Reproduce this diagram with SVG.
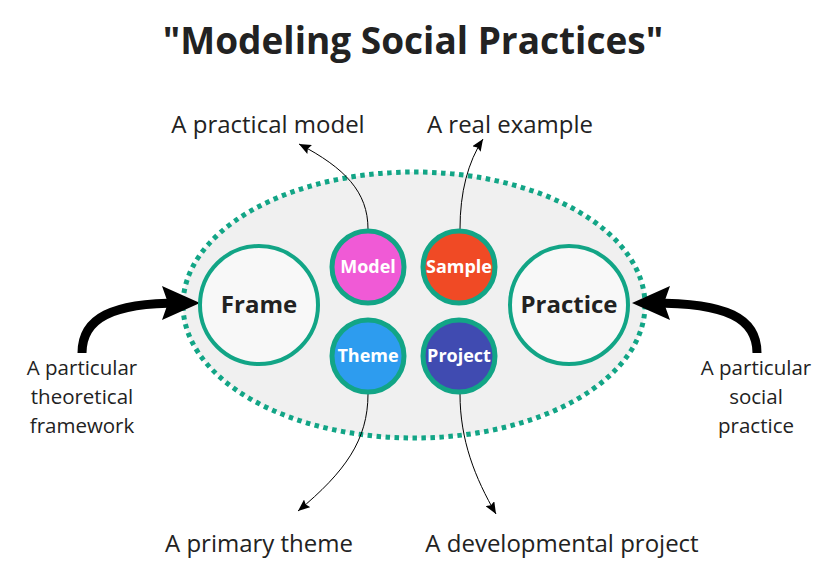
<svg xmlns="http://www.w3.org/2000/svg" width="837" height="587" viewBox="0 0 837 587">
<defs>
<style>
.lbl{font-family:"Open Sans","Noto Sans",sans-serif;font-size:24px;fill:#222;text-anchor:middle}
.side{font-family:"Open Sans","Noto Sans",sans-serif;font-size:20.5px;fill:#222;text-anchor:middle}
.big{font-family:"Open Sans","Noto Sans",sans-serif;font-size:24px;font-weight:bold;fill:#222;text-anchor:middle}
.sm{font-family:"Open Sans","Noto Sans",sans-serif;font-size:18px;font-weight:bold;fill:#fff;text-anchor:middle}
.ring{stroke:#12a586;stroke-width:4}
.dot{stroke:#12a586;stroke-width:5}
.thin{fill:none;stroke:#000;stroke-width:1}
.thick{fill:none;stroke:#000;stroke-width:9}
</style>
<marker id="ah" viewBox="0 0 12 10" refX="12" refY="5" markerWidth="12" markerHeight="10" markerUnits="userSpaceOnUse" orient="auto">
<path d="M0,0 L12,5 L0,10 L2,5 Z" fill="#000"/>
</marker>
<marker id="bh" viewBox="0 0 38 34" refX="18" refY="17" markerWidth="38" markerHeight="34" markerUnits="userSpaceOnUse" orient="auto">
<path d="M0,0 L38,17 L0,34 L6,17 Z" fill="#000"/>
</marker>
</defs>
<rect width="837" height="587" fill="#fff"/>
<text x="413" y="54" font-family="'Open Sans','Noto Sans',sans-serif" font-size="37" font-weight="bold" fill="#222" text-anchor="middle">"Modeling Social Practices"</text>
<g id="container">
<ellipse cx="414" cy="305" rx="231" ry="133" fill="#f0f0f0" stroke="#12a586" stroke-width="5" stroke-dasharray="4.5 4.5"/>
</g>
<g id="connectors">
<path class="thin" d="M368,229 C368,192 345,168 299,144" marker-end="url(#ah)"/>
<path class="thin" d="M460,229 C460,192 468,162 483,139" marker-end="url(#ah)"/>
<path class="thin" d="M368,394 C368,440 345,472 298,511" marker-end="url(#ah)"/>
<path class="thin" d="M460,394 C460,440 475,478 496,514" marker-end="url(#ah)"/>
<path class="thick" d="M82,353 C82,318 112,303 180,303" marker-end="url(#bh)"/>
<path class="thick" d="M757,353 C757,318 727,303 652,303" marker-end="url(#bh)"/>
</g>
<g id="frame">
<circle cx="259" cy="305" r="59" fill="#f8f8f8" class="ring"/>
<text class="big" x="259" y="313">Frame</text>
</g>
<g id="practice">
<circle cx="569" cy="305" r="59" fill="#f8f8f8" class="ring"/>
<text class="big" x="569" y="313">Practice</text>
</g>
<g id="model">
<circle cx="368" cy="267" r="36" fill="#f05ad6" class="dot"/>
<text class="sm" x="368" y="273">Model</text>
</g>
<g id="sample">
<circle cx="459" cy="267" r="36" fill="#f04a25" class="dot"/>
<text class="sm" x="459" y="273">Sample</text>
</g>
<g id="theme">
<circle cx="368" cy="356" r="36" fill="#2d9cef" class="dot"/>
<text class="sm" x="368" y="362">Theme</text>
</g>
<g id="project">
<circle cx="459" cy="356" r="36" fill="#404bb1" class="dot"/>
<text class="sm" x="459" y="362">Project</text>
</g>
<g id="labels">
<text class="lbl" x="268" y="133">A practical model</text>
<text class="lbl" x="510" y="133">A real example</text>
<text class="lbl" x="259" y="552">A primary theme</text>
<text class="lbl" x="562" y="552">A developmental project</text>
<text class="side" x="82" y="375">A particular</text>
<text class="side" x="82" y="404">theoretical</text>
<text class="side" x="82" y="433">framework</text>
<text class="side" x="756" y="375">A particular</text>
<text class="side" x="756" y="404">social</text>
<text class="side" x="756" y="433">practice</text>
</g>
</svg>
